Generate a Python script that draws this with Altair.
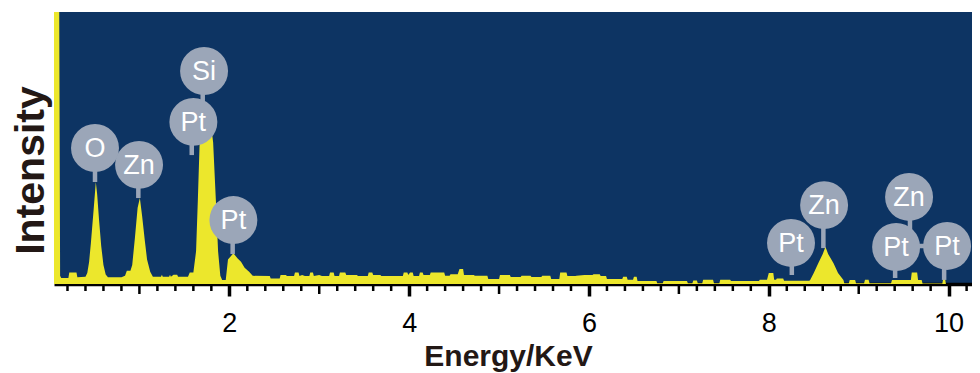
import altair as alt
import pandas as pd

BLUE = "#0d3463"
YELLOW = "#ece72c"
GREY = "#9ba6b8"
INK = "#231815"

# spectrum (energy in keV, intensity in arbitrary units 0-100)
energy = [0.05, 0.108, 0.118, 0.13, 0.21, 0.22, 0.30, 0.31, 0.40, 0.42, 0.44, 0.46, 0.49, 0.515, 0.53, 0.55, 0.575,
          0.60, 0.625, 0.65,
          0.80, 0.84, 0.86, 0.90, 0.92, 0.95, 0.98, 1.005, 1.03, 1.06, 1.085, 1.12, 1.15, 1.24, 1.25, 1.26, 1.33, 1.34,
          1.35, 1.38, 1.42, 1.43, 1.54, 1.56, 1.60, 1.63, 1.65, 1.67, 1.70, 1.74, 1.78, 1.82, 1.85, 1.875, 1.90, 1.92,
          1.96, 1.985, 2.045, 2.09, 2.13, 2.17, 2.22, 2.26,
          2.45, 2.46, 2.56, 2.57, 2.63, 2.64, 2.72, 2.73, 2.77, 2.78, 2.81, 2.84, 2.89, 2.90, 2.93, 2.94, 3.00, 3.03,
          3.11, 3.12, 3.16, 3.17, 3.22, 3.23, 3.29, 3.30, 3.42, 3.43, 3.54, 3.55, 3.59, 3.60, 3.68, 3.69, 3.93, 3.94,
          3.98, 3.99, 4.01, 4.04, 4.05, 4.11, 4.12, 4.15, 4.16, 4.23, 4.24, 4.39, 4.40, 4.45, 4.46, 4.54, 4.56, 4.60,
          4.61, 4.72, 4.73, 4.87, 4.88, 5.00, 5.01, 5.12, 5.13, 5.24, 5.25, 5.35, 5.36, 5.47, 5.48, 5.57, 5.58, 5.67,
          5.68, 5.75, 5.76, 5.85, 5.86, 5.95, 6.04, 6.05, 6.12, 6.13, 6.19, 6.20, 6.37, 6.38, 6.42, 6.43, 6.49, 6.50,
          6.53, 6.54, 6.75, 6.76, 6.82, 6.83, 7.09, 7.10, 7.15, 7.16, 7.20, 7.21, 7.26, 7.27, 7.38, 7.39, 7.45, 7.46,
          7.57, 7.58, 7.89, 7.90, 7.98, 8.00, 8.05, 8.06, 8.08, 8.09, 8.16, 8.17, 8.45,
          8.46, 8.50, 8.55, 8.60, 8.63, 8.66, 8.72, 8.77, 8.83, 8.84, 8.89, 8.90, 8.96, 8.97, 9.06, 9.07, 9.11, 9.12,
          9.36, 9.37, 9.58, 9.59, 9.65, 9.66, 9.70, 9.71, 9.93, 9.94, 9.96, 9.97, 10.26]
intensity = [100, 100, 3, 2.2, 2.2, 4.2, 4.2, 2.5, 2.7, 4, 8, 15, 27, 37.5, 33, 24, 14,
             7, 3.5, 2.5,
             2.5, 3, 4.9, 4.9, 7, 17, 28, 31.6, 25, 16, 9, 4.5, 2.7, 2.7, 3.4, 2.7, 2.7, 3.4,
             2.7, 3.4, 3.4, 2.7, 2.7, 4.2, 4.2, 12, 31, 52, 62, 66.4, 63, 52, 31, 12, 3, 1.5,
             1.5, 9, 11.3, 9.5, 8.2, 6, 4.5, 3,
             2.9, 2.0, 2.0, 3.3, 3.3, 2.9, 2.9, 4.2, 4.2, 2.9, 3.3, 2.9, 2.9, 4.2, 4.2, 2.9, 3.3, 2.9,
             2.9, 4.2, 4.2, 2.9, 2.9, 4.2, 4.2, 3.3, 3.3, 2.9, 2.9, 4.2, 4.2, 3.3, 3.3, 2.9, 2.9, 4.2,
             4.2, 3.3, 4.2, 4.2, 2.9, 2.9, 4.2, 4.2, 3.3, 3.3, 4.2, 4.2, 3.0, 3.0, 3.6, 3.6, 5.5, 5.5,
             3.3, 3.3, 3.0, 3.0, 1.8, 1.8, 3.3, 3.3, 2.6, 2.6, 3.0, 3.0, 2.6, 2.6, 3.0, 3.0, 1.8, 1.8,
             4.2, 4.2, 2.9, 2.9, 3.0, 3.3, 3.3, 3.6, 3.6, 2.9, 2.9, 1.8, 1.8, 2.7, 2.7, 1.6, 1.6, 2.7,
             2.7, 1.1, 1.1, 0.3, 0.3, 1.1, 1.1, 0.3, 0.3, 1.3, 1.3, 0.3, 0.3, 1.6, 1.6, 0.3, 0.3, 1.6,
             1.6, 1.1, 1.1, 1.6, 1.6, 4.0, 4.0, 1.6, 1.6, 2.0, 2.0, 1.2, 1.2,
             1.5, 4, 7.6, 11, 13.7, 11, 7.6, 4, 1.5, 0.3, 0.3, 1.5, 1.5, 0.3, 0.3, 1.6, 1.6, 0.3,
             0.3, 1.5, 1.5, 4.2, 4.2, 1.5, 1.5, 0.2, 0.2, 2.0, 2.0, 0, 0]

# element labels
labels = ["O", "Zn", "Si", "Pt", "Pt", "Pt", "Zn", "Zn", "Pt", "Pt"]
label_x = [0.506, 0.996, 1.719, 1.600, 2.045, 8.247, 8.615, 9.560, 9.416, 9.983]
label_y = [50.0, 43.8, 78.3, 59.6, 23.5, 15.1, 29.0, 32.0, 13.6, 14.0]
stem_x = [0.506, 0.988, 1.704, 1.582, 2.037, 8.256, 8.607, 9.570, 9.405, 9.950]
stem_end = [37.5, 31.6, 66.0, 47.4, 11.0, 3.3, 13.2, 14.0, 2.2, 1.5]

# connector between the two Pt circles near 9.4 / 10 keV
link_x = [9.416]
link_x2 = [9.983]
link_y = [14.0]

# axis ticks
major_ticks = [2, 4, 6, 8, 10]
medium_ticks = [1, 3, 5, 7, 9]
minor_ticks = [round(0.2 * k, 1) for k in range(1, 52) if k % 5 != 0]

spec = pd.DataFrame({"E": energy, "I": intensity})
lab = pd.DataFrame({"E": label_x, "I": label_y, "SE": stem_x, "S2": stem_end, "label": labels})
link = pd.DataFrame({"E": link_x, "E2": link_x2, "I": link_y})
minor = pd.DataFrame({"E": minor_ticks})
medium = pd.DataFrame({"E": medium_ticks})

xs = alt.Scale(domain=[0.05, 10.26], nice=False, zero=False)
ys = alt.Scale(domain=[0, 100], nice=False)

area = alt.Chart(spec).mark_area(color=YELLOW, interpolate="linear", clip=True, opacity=1).encode(
    x=alt.X("E:Q", scale=xs, axis=alt.Axis(
        values=major_ticks, format="d", title="Energy/KeV", grid=False,
        domainColor="black", domainWidth=3.5, tickColor="black", tickWidth=3.5, tickSize=12,
        labelFontSize=27, labelColor="black", labelFont="Liberation Sans", labelPadding=14,
        titleFontSize=30, titleFont="Liberation Sans", titleFontWeight="bold", titleColor=INK,
        titlePadding=5, titleX=454)),
    y=alt.Y("I:Q", scale=ys, axis=alt.Axis(
        title="Intensity", grid=False, domain=False, ticks=False, labels=False,
        titleFontSize=41, titleFont="Liberation Sans", titleFontWeight="bold", titleColor=INK,
        titlePadding=2, titleY=158)),
)

stems = alt.Chart(lab).mark_rule(color=GREY, strokeWidth=4.5).encode(
    x=alt.X("SE:Q", scale=xs), y=alt.Y("I:Q", scale=ys), y2="S2:Q")

links = alt.Chart(link).mark_rule(color=GREY, strokeWidth=4.5).encode(
    x=alt.X("E:Q", scale=xs), x2="E2:Q", y=alt.Y("I:Q", scale=ys))

circles = alt.Chart(lab).mark_point(shape="circle", filled=True, color=GREY, opacity=1, size=2300).encode(
    x=alt.X("E:Q", scale=xs), y=alt.Y("I:Q", scale=ys))

texts = alt.Chart(lab).mark_text(color="white", fontSize=27, font="Liberation Sans", baseline="middle",
                                 align="center", dy=1).encode(
    x=alt.X("E:Q", scale=xs), y=alt.Y("I:Q", scale=ys), text="label:N")

minor_rules = alt.Chart(minor).mark_rule(color="black", strokeWidth=2.5).encode(
    x=alt.X("E:Q", scale=xs), y=alt.value(272), y2=alt.value(279))

medium_rules = alt.Chart(medium).mark_rule(color="black", strokeWidth=2.5).encode(
    x=alt.X("E:Q", scale=xs), y=alt.value(272), y2=alt.value(282))

chart = alt.layer(area, minor_rules, medium_rules, stems, links, circles, texts).properties(
    width=918, height=272,
    autosize=alt.AutoSizeParams(type="none"),
    padding={"left": 46, "top": 4, "right": 0, "bottom": 88},
).configure_view(fill=BLUE, stroke=None)

chart.save("out.html", embed_options={"renderer": "svg", "actions": False})
